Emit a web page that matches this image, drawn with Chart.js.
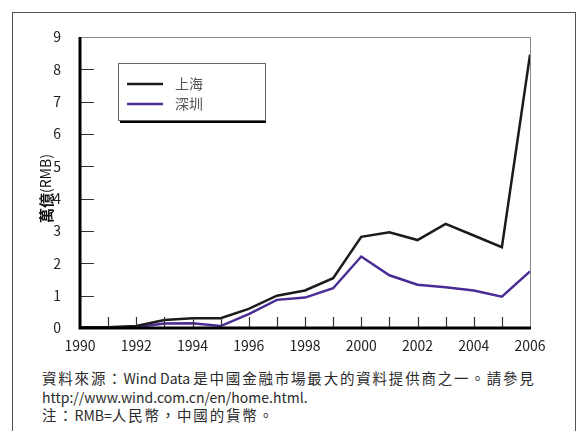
<!DOCTYPE html>
<html lang="zh-Hant">
<head>
    <meta charset="UTF-8">
    <title>上海與深圳 市值</title>
    <script src="https://cdn.jsdelivr.net/npm/chart.js@4.4.8/dist/chart.umd.min.js"></script>
    <style>
        body { margin: 0; background: #fff; width: 580px; height: 431px; overflow: hidden; position: relative; }
        .frame { position: absolute; left: 12px; top: 12px; width: 564px; height: 440px; border: 1px solid #555; box-sizing: border-box; }
        .chart-box { position: absolute; left: 0; top: 0; width: 580px; height: 360px; }
        .note { position: absolute; left: 42px; top: 369px; font: 14.5px "Noto Sans CJK TC", sans-serif; letter-spacing: 1.8px; line-height: 17.5px; color: #2a2a2a; white-space: nowrap; }
        .note .lat { font-size: 14px; letter-spacing: 0; }
    </style>
</head>
<body>
    <div class="frame"></div>
    <div class="chart-box"><canvas id="mainChart" width="580" height="360"></canvas></div>
    <div class="note">
        資料來源：<span class="lat">Wind Data </span>是中國金融市場最大的資料提供商之一。請參見<br>
        <span class="lat">http://www.wind.com.cn/en/home.html.</span><br>
        注：<span class="lat">RMB=</span>人民幣，中國的貨幣。
    </div>

    <script>
        // 數據
        const years = ['1990', '1991', '1992', '1993', '1994', '1995', '1996', '1997', '1998',
                       '1999', '2000', '2001', '2002', '2003', '2004', '2005', '2006'];
        const shanghai = [0.02, 0.02, 0.06, 0.25, 0.3, 0.3, 0.59, 1.0, 1.16, 1.54, 2.82, 2.96, 2.72, 3.22, 2.86, 2.5, 8.45];
        const shenzhen = [0.0, 0.01, 0.03, 0.14, 0.15, 0.06, 0.43, 0.87, 0.94, 1.23, 2.21, 1.63, 1.34, 1.26, 1.16, 0.97, 1.75];
        const seriesNames = ['上海', '深圳'];
        const yTitleBold = '萬億';
        const yTitleUnit = '(RMB)';

        const colors = ['#1b1b1b', '#4a2c96'];

        // 軸線、內向刻度、圖例、Y軸標題
        const decorPlugin = {
            id: 'decor',
            afterDatasetsDraw(chart) {
                const { ctx, chartArea: a, scales: { x, y } } = chart;
                ctx.save();
                // 上、右邊框
                ctx.strokeStyle = '#888';
                ctx.lineWidth = 1;
                ctx.beginPath();
                ctx.moveTo(a.left, a.top + 0.5);
                ctx.lineTo(a.right + 0.5, a.top + 0.5);
                ctx.lineTo(a.right + 0.5, a.bottom);
                ctx.stroke();
                // 刻度
                ctx.strokeStyle = '#333';
                ctx.lineWidth = 1.2;
                ctx.beginPath();
                for (let v = 1; v < 9; v++) {
                    const py = Math.round(y.getPixelForValue(v)) + 0.5;
                    ctx.moveTo(a.left, py);
                    ctx.lineTo(a.left + 14, py);
                }
                for (let i = 1; i < years.length - 1; i++) {
                    const px = Math.round(x.getPixelForValue(i)) + 0.5;
                    ctx.moveTo(px, a.bottom);
                    ctx.lineTo(px, a.bottom - 11);
                }
                ctx.stroke();
                // 左、下軸線
                ctx.strokeStyle = '#000';
                ctx.lineWidth = 3;
                ctx.beginPath();
                ctx.moveTo(a.left, a.top);
                ctx.lineTo(a.left, a.bottom);
                ctx.lineTo(a.right + 1, a.bottom);
                ctx.stroke();

                // 圖例
                const lx = 118, ly = 63, lw = 147, lh = 57;
                ctx.fillStyle = '#fff';
                ctx.fillRect(lx, ly, lw, lh);
                ctx.strokeStyle = '#666';
                ctx.lineWidth = 1;
                ctx.strokeRect(lx + 0.5, ly + 0.5, lw, lh);
                ctx.strokeStyle = '#000';
                ctx.lineWidth = 2;
                ctx.beginPath();
                ctx.moveTo(lx + 2, ly + lh + 2);
                ctx.lineTo(lx + lw + 1, ly + lh + 2);
                ctx.stroke();
                ctx.font = '14px "Noto Sans CJK TC", sans-serif';
                ctx.textBaseline = 'middle';
                seriesNames.forEach((name, i) => {
                    const yy = ly + 21 + i * 20;
                    ctx.strokeStyle = colors[i];
                    ctx.lineWidth = 2.5;
                    ctx.beginPath();
                    ctx.moveTo(lx + 9, yy);
                    ctx.lineTo(lx + 45, yy);
                    ctx.stroke();
                    ctx.fillStyle = '#555';
                    ctx.fillText(name, lx + 57, yy);
                });

                // Y軸標題
                ctx.translate(46, 223);
                ctx.rotate(-Math.PI / 2);
                ctx.fillStyle = '#111';
                ctx.textAlign = 'left';
                ctx.font = 'bold 15px "Noto Sans CJK TC", sans-serif';
                ctx.fillText(yTitleBold, 0, 0);
                const w = ctx.measureText(yTitleBold).width;
                ctx.font = '14px "Noto Sans CJK TC", sans-serif';
                ctx.fillText(yTitleUnit, w, 0);
                ctx.restore();
            }
        };

        const tickFont = { family: '"Noto Sans CJK TC", sans-serif', size: 14 };

        const ctx = document.getElementById('mainChart').getContext('2d');
        const mainChart = new Chart(ctx, {
            type: 'line',
            data: {
                labels: years,
                datasets: [
                    { label: seriesNames[0], data: shanghai, borderColor: colors[0], borderWidth: 2.5, pointRadius: 0, tension: 0 },
                    { label: seriesNames[1], data: shenzhen, borderColor: colors[1], borderWidth: 2.5, pointRadius: 0, tension: 0 }
                ]
            },
            options: {
                responsive: false,
                animation: false,
                layout: { padding: { left: 0, top: 37, right: 50, bottom: 0 } },
                scales: {
                    x: {
                        type: 'category',
                        offset: false,
                        grid: { display: false },
                        border: { display: false },
                        ticks: {
                            autoSkip: false,
                            maxRotation: 0,
                            padding: 1,
                            color: '#222',
                            font: tickFont,
                            callback: (v, i) => (i % 2 === 0 ? years[i] : '')
                        },
                        afterFit(scale) { scale.height = 32; }
                    },
                    y: {
                        min: 0,
                        max: 9,
                        grid: { display: false },
                        border: { display: false },
                        ticks: { stepSize: 1, padding: 11, color: '#222', font: tickFont },
                        afterFit(scale) { scale.width = 80; }
                    }
                },
                plugins: {
                    legend: { display: false },
                    tooltip: { enabled: false }
                }
            },
            plugins: [decorPlugin]
        });
    </script>
</body>
</html>
